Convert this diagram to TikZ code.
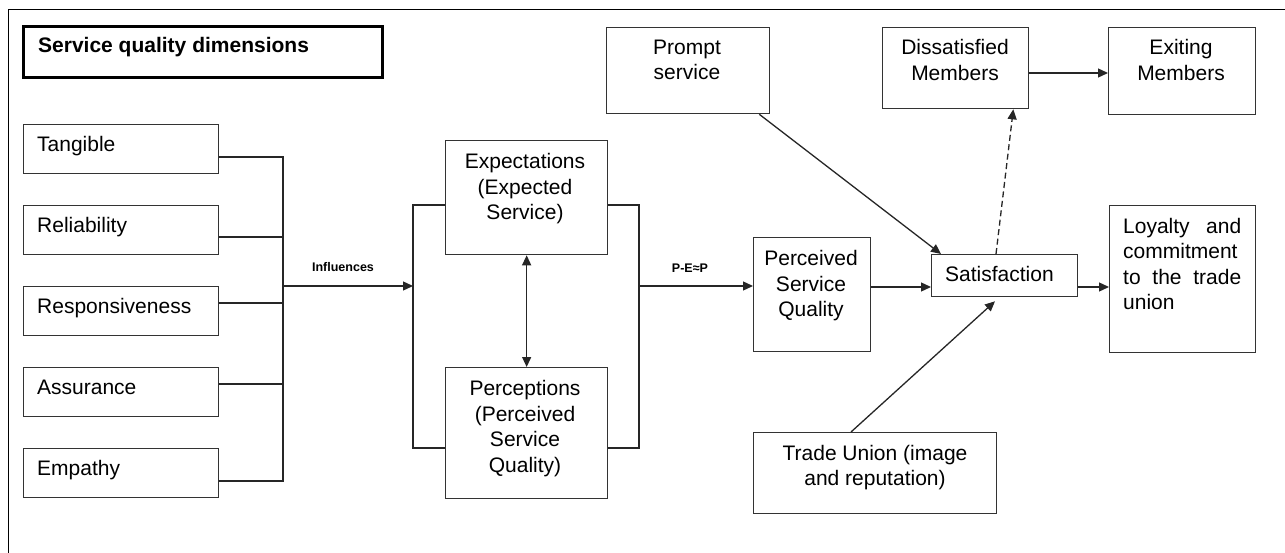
\documentclass[tikz,border=0pt]{standalone}
\usepackage{fontspec}
\setmainfont{Liberation Sans}
\usetikzlibrary{arrows.meta}
\tikzset{
  box/.style={draw=black!80, line width=1.3pt, inner sep=0pt, anchor=north west, fill=white},
  lbl/.style={inner sep=0pt, font=\fontsize{21}{25.5}\selectfont, text=black},
  conn/.style={draw=black!85, line width=1.3pt},
  arr/.style={-{Triangle[length=10pt,width=9pt]}},
  darr/.style={{Triangle[length=10pt,width=9pt]}-{Triangle[length=10pt,width=9pt]}},
  small/.style={inner sep=0pt, font=\fontsize{12.5}{14}\selectfont\bfseries, text=black}
}
\begin{document}
\begin{tikzpicture}[x=1pt,y=-1pt]
\useasboundingbox (0,0) rectangle (1285,553);
% outer frame
\draw[black, line width=1pt] (8,553) -- (8,10) -- (1285,10);

% title
\node[box, line width=3pt, draw=black, minimum width=359pt, minimum height=51pt] (title) at (22,25) {};
\node[lbl, font=\fontsize{21}{25}\selectfont\bfseries, anchor=base west] (titletext) at (38,53) {Service quality dimensions};

% dimension boxes
\node[box, minimum width=195pt, minimum height=49pt] (tang) at (23,124) {};
\node[box, minimum width=195pt, minimum height=49pt] (rel)  at (23,205) {};
\node[box, minimum width=195pt, minimum height=49pt] (resp) at (23,286) {};
\node[box, minimum width=195pt, minimum height=49pt] (assu) at (23,367) {};
\node[box, minimum width=195pt, minimum height=49pt] (emp)  at (23,448) {};
\node[lbl, anchor=base west] (tangt) at ([xshift=14pt,yshift=-28pt]tang.north west) {Tangible};
\node[lbl, anchor=base west] (relt)  at ([xshift=14pt,yshift=-28pt]rel.north west) {Reliability};
\node[lbl, anchor=base west] (respt) at ([xshift=14pt,yshift=-27pt]resp.north west) {Responsiveness};
\node[lbl, anchor=base west] (assut) at ([xshift=14pt,yshift=-27pt]assu.north west) {Assurance};
\node[lbl, anchor=base west] (empt)  at ([xshift=14pt,yshift=-27pt]emp.north west) {Empathy};

% expectations / perceptions
\node[box, minimum width=162pt, minimum height=114pt] (exp) at (445,140) {};
\node[box, minimum width=162pt, minimum height=131pt] (perc) at (445,367) {};
\node[lbl, align=center, anchor=north] (expt) at (525,153.5) {Expectations\\(Expected\\Service)};
\node[lbl, align=center, anchor=north] (perct) at (525,380.5) {Perceptions\\(Perceived\\Service\\Quality)};

% right side boxes
\node[box, minimum width=163pt, minimum height=86pt] (prompt) at (606,27) {};
\node[lbl, align=center, anchor=north] (promptt) at (687,39.5) {Prompt\\service};
\node[box, minimum width=146pt, minimum height=81pt] (dis) at (882,27) {};
\node[lbl, align=center, anchor=north] (dist) at (955,39.5) {Dissatisfied\\Members};
\node[box, minimum width=147pt, minimum height=87pt] (exit) at (1108,27) {};
\node[lbl, align=center, anchor=north] (exitt) at (1181,39.5) {Exiting\\Members};
\node[box, minimum width=117pt, minimum height=114pt] (psq) at (753,237) {};
\node[lbl, align=center, anchor=north] (psqt) at (811,250.5) {Perceived\\Service\\Quality};
\node[box, minimum width=146pt, minimum height=42pt] (sat) at (931,254) {};
\node[lbl, anchor=base west] (satt) at (945,281.5) {Satisfaction};
\node[box, minimum width=146pt, minimum height=147pt] (loy) at (1109,205) {};
\node[lbl, align=justify, text width=118pt, anchor=north west,
      font={\fontsize{21}{25.3}\selectfont}] (loyt) at (1123,218)
      {\hyphenpenalty=10000 \exhyphenpenalty=10000 Loyalty and commitment to the trade union};
\node[box, minimum width=243pt, minimum height=81pt] (tu) at (753,432) {};
\node[lbl, align=center, anchor=north] (tut) at (875,445) {Trade Union (image\\and reputation)};

% small labels
\node[small, anchor=base] (infl) at (343,272) {Influences};
\node[small, anchor=base] (pep) at (690,273) {P-E≈P};

% left bus
\coordinate (bus) at (283,286);
\coordinate (inL) at (413,286);
\coordinate (outR) at (639,286);
\draw[conn] ([yshift=-33pt]tang.north east) -| (bus);
\draw[conn] ([yshift=-33pt]emp.north east) -| (bus);
\draw[conn] ([yshift=-32pt]rel.north east) -- ++(65,0);
\draw[conn] ([yshift=-17pt]resp.north east) -- ++(65,0);
\draw[conn] ([yshift=-17pt]assu.north east) -- ++(65,0);
\draw[conn, arr] (bus) -- (inL);

% brackets
\draw[conn] ([yshift=-65pt]exp.north west) -| (inL) |- ([yshift=-81pt]perc.north west);
\draw[conn] ([yshift=-65pt]exp.north east) -| (outR) |- ([yshift=-81pt]perc.north east);
\draw[conn, darr] (exp.south) -- (perc.north);
\draw[conn, arr] (outR) -- (outR -| psq.west);

% right connectors
\draw[conn, arr] ([yshift=-50pt]psq.north east) -- ([yshift=-33pt]sat.north west);
\draw[conn, arr] ([yshift=-33pt]sat.north east) -- ([yshift=-82pt]loy.north west);
\draw[conn, arr] ([yshift=-46pt]dis.north east) -- ([yshift=-46pt]exit.north west);
\draw[conn, arr] ([xshift=-11pt]prompt.south east) -- ([xshift=10pt]sat.north west);
\draw[conn, arr, dash pattern=on 6pt off 3.5pt] ([xshift=65pt]sat.north west) -- ([xshift=-16pt]dis.south east);
\draw[conn, arr] ([xshift=98pt]tu.north west) -- ([xshift=64pt,yshift=-4pt]sat.south west);
\end{tikzpicture}
\end{document}
